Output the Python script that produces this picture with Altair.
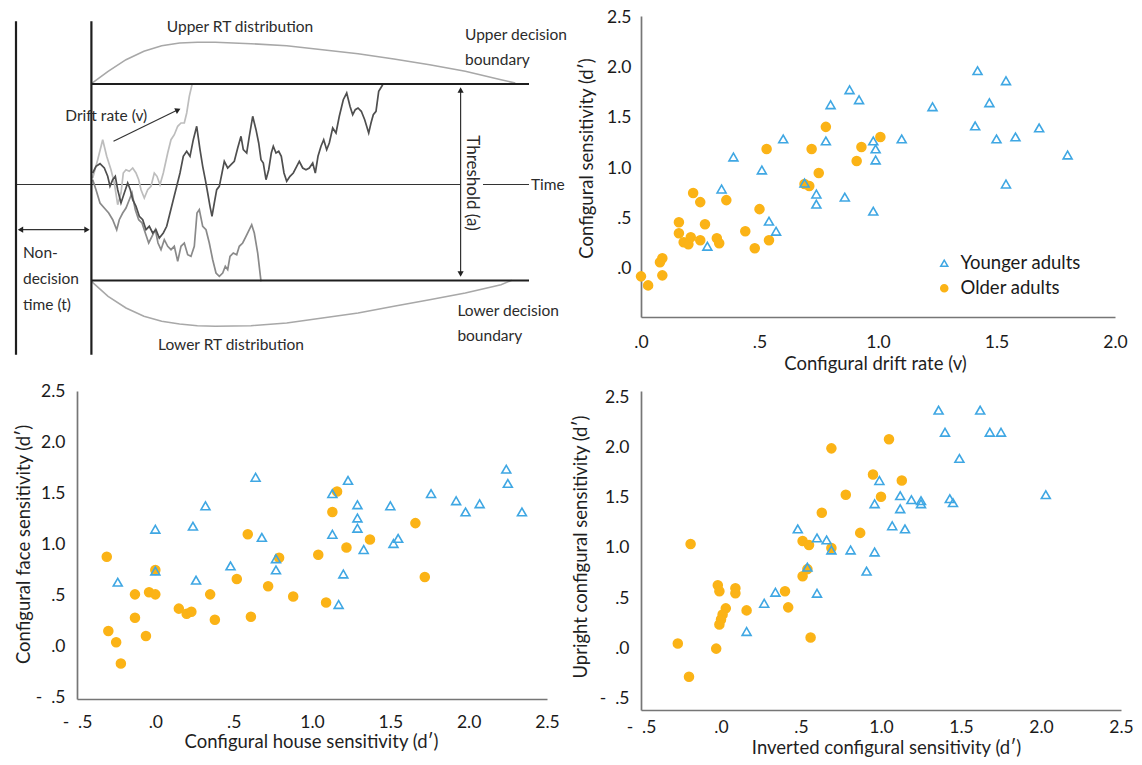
import altair as alt
import pandas as pd

FONT = "Lato"
BLUE = "#3FA7E3"
ORANGE = "#FBB316"
GROUPS = ["Younger adults", "Older adults"]
TXT = "#2b2b2b"

# ---------------- Diagram (drift diffusion model), reference-pixel units ----------------
frame_x = [15, 90.4, 90.4, 90.4]
frame_x2 = [15, 90.4, 528, 528]
frame_y = [18.3, 18.3, 81, 277.5]
frame_y2 = [351.7, 351.7, 81, 277.5]

thin_x = [15, 482, 459.6, 18, 112.5]
thin_x2 = [459, 528, 459.6, 87, 176]
thin_y = [181.5, 181.5, 86, 226.7, 138.3]
thin_y2 = [181.5, 181.5, 272, 226.7, 107.3]

head_x = [459.6, 459.6, 19.5, 86, 177]
head_y = [87, 271, 226.7, 226.7, 107]
head_angle = [0, 180, 270, 90, 64.5]

upper_rt_x = [90.4, 107.1, 125, 142.9, 160.7, 178.6, 196.4, 214.3, 250, 285.7, 321.4, 357.1, 392.9, 428.6, 464.3, 500, 514.3]
upper_rt_y = [80.7, 68.3, 56.7, 48.3, 42.7, 40, 39.3, 39.3, 40.7, 42.7, 46.7, 50.7, 56, 61.7, 68.3, 76.7, 80]
lower_rt_x = [90.4, 107.1, 125, 142.9, 160.7, 178.6, 196.4, 214.3, 250, 285.7, 321.4, 357.1, 392.9, 428.6, 464.3, 500, 510.7]
lower_rt_y = [278.3, 293.3, 305, 313.3, 318.3, 321, 322.7, 323.3, 322.7, 320, 315, 310, 303.3, 296.7, 290, 281.7, 277.3]

walk_a_x = [91.7, 96.7, 101.7, 105.7, 110.0, 113.3, 116.7, 120.0, 122.3, 125.0, 128.3, 131.7, 135.0, 137.7, 140.0, 143.3,
            146.7, 150.0, 153.3, 156.0, 159.0, 162.3, 166.7, 170.0, 173.3, 176.7, 180.0, 183.3, 185.7, 188.3, 191.0]
walk_a_y = [175.0, 156.7, 136.7, 153.3, 166.7, 180.0, 201.7, 190.0, 170.0, 166.7, 168.3, 165.0, 170.0, 176.7, 186.7, 195.0,
            186.7, 183.3, 170.0, 173.3, 181.7, 170.0, 150.0, 136.7, 131.7, 123.3, 120.0, 120.0, 110.0, 93.3, 81.7]

walk_b_x = [91.7, 95, 99, 103.3, 106.7, 109, 111.7, 114.3, 116.7, 120, 123.3, 126.7, 129.3, 131.7, 135, 138.3, 141.7, 145,
            148.3, 151.7, 155, 158.3, 162.3, 165.7, 169, 172.3, 175.7, 179, 182.3, 185.7, 189, 192.3, 195.7, 199, 201.7,
            204.3, 206.7, 209, 211, 213.3, 215.7, 218.3, 221, 223.3, 226.7, 230, 233.3, 236.7, 240, 242.3, 245.7, 248.3,
            251.7, 255, 257.7, 260, 262.3, 265, 267.7, 270.3, 272.3, 275, 277.7, 280.3, 283, 285.7, 289, 292.3, 295.7,
            298.3, 301.7, 305, 308.3, 311.7, 314.3, 317, 320, 322.7, 325.7, 328.3, 331.7, 335, 338.3, 342.3, 345.7, 349,
            351.7, 354.3, 357, 360.3, 363.7, 367.7, 370, 372.3, 375, 377.7, 381.7]
walk_b_y = [170, 163.3, 160.7, 165, 173.3, 183.3, 176.7, 173.3, 186.7, 200, 190, 180, 186.7, 196.7, 203.3, 213.3, 216.7,
            226.7, 223.3, 230, 226.7, 235, 230, 223.3, 210, 196.7, 183.3, 170, 153.3, 148.3, 153.3, 136.7, 123.3, 146.7,
            163.3, 176.7, 190, 203.3, 213.3, 200, 186.7, 183.3, 170, 158.3, 165, 161.7, 158.3, 145, 133.3, 146.7, 150,
            133.3, 113.3, 126.7, 140, 156.7, 160, 176.7, 166.7, 150, 143.3, 150, 148.3, 153.3, 170, 178.3, 173.3, 170,
            163.3, 158.3, 165, 166.7, 165, 160, 170, 153.3, 143.3, 136.7, 146.7, 140, 125, 130, 113.3, 96.7, 90, 103.3,
            111.7, 106.7, 105, 108.3, 116.7, 130, 120, 111.7, 108.3, 88.3, 81.7]

walk_c_x = [91.7, 95, 99, 103.3, 107.7, 111.7, 115.7, 118.3, 121.7, 125, 128.3, 131, 134.3, 137.7, 141, 144.3, 147.7, 151,
            154.3, 157, 160, 163.3, 166.7, 170, 173.3, 176.7, 180, 183.3, 186.7, 190, 193.3, 196, 198.3, 201.7, 205,
            208.3, 211.7, 215, 218.3, 221.7, 224.3, 226.7, 229, 232.3, 235.7, 238.3, 241.7, 245, 248.3, 250.7, 253.3,
            256.7, 260]
walk_c_y = [176.7, 186.7, 200, 205, 210, 216.7, 226.7, 216.7, 210, 205, 196.7, 190, 206.7, 216.7, 220, 230, 240, 233.3,
            226.7, 240, 246.7, 236.7, 243.3, 246.7, 243.3, 258.3, 243.3, 240, 251.7, 253.3, 243.3, 210, 206.7, 223.3,
            226.7, 240, 256.7, 270, 273.3, 270, 263.3, 266.7, 253.3, 250, 251.7, 243.3, 240, 233.3, 226.7, 221.7, 230,
            250, 278.3]

left_text = ["Upper decision", "boundary", "Drift rate (v)", "Non-", "decision", "time (t)",
             "Lower decision", "boundary", "Time"]
left_text_x = [464, 464, 64.3, 22, 22, 22, 456.4, 456.4, 530]
left_text_y = [31.7, 56.7, 113.3, 250, 276, 301.7, 308.3, 333.3, 181.7]
center_text = ["Upper RT distribution", "Lower RT distribution"]
center_text_x = [239, 230]
center_text_y = [24, 341.7]
rot_text = ["Threshold (a)"]
rot_text_x = [471.4]
rot_text_y = [180]

# ---------------- Scatter data ----------------
# Top right: drift rate vs sensitivity
tr_young_x = [1.42, 1.54, 0.88, 0.92, 0.80, 1.47, 1.23, 1.41, 1.68, 0.60, 0.78, 1.10, 0.98, 1.50, 1.58, 0.99, 0.99, 0.39,
              1.80, 0.51, 0.69, 1.54, 0.34, 0.74, 0.86, 0.74, 0.98, 0.54, 0.57, 0.28]
tr_young_y = [1.97, 1.87, 1.78, 1.68, 1.63, 1.65, 1.61, 1.42, 1.40, 1.29, 1.27, 1.29, 1.27, 1.29, 1.31, 1.19, 1.08, 1.11,
              1.13, 0.98, 0.85, 0.84, 0.79, 0.74, 0.71, 0.64, 0.57, 0.47, 0.37, 0.22]
tr_old_x = [0.78, 1.01, 0.53, 0.72, 0.93, 0.91, 0.75, 0.69, 0.71, 0.22, 0.25, 0.36, 0.50, 0.16, 0.27, 0.16, 0.44, 0.18,
            0.20, 0.21, 0.25, 0.32, 0.33, 0.54, 0.48, 0.08, 0.09, 0.09, 0.00, 0.03]
tr_old_y = [1.41, 1.31, 1.19, 1.19, 1.21, 1.07, 0.95, 0.84, 0.82, 0.75, 0.66, 0.68, 0.59, 0.46, 0.44, 0.35, 0.37, 0.26,
            0.24, 0.31, 0.28, 0.30, 0.25, 0.28, 0.20, 0.06, 0.10, -0.07, -0.08, -0.17]

# Bottom left: house vs face sensitivity
bl_young_x = [2.24, 2.25, 0.64, 1.23, 1.13, 1.76, 1.92, 2.07, 1.98, 2.34, 1.29, 1.50, 0.32, 1.29, 1.29, 0.00, 0.24, 1.13,
              0.68, 1.55, 1.52, 1.33, 0.77, 0.48, 0.00, 0.77, 1.20, 0.26, -0.24, 1.17]
bl_young_y = [1.74, 1.60, 1.66, 1.63, 1.50, 1.50, 1.43, 1.40, 1.32, 1.32, 1.39, 1.38, 1.38, 1.26, 1.16, 1.15, 1.18, 1.10,
              1.07, 1.06, 1.01, 0.95, 0.86, 0.79, 0.74, 0.75, 0.71, 0.65, 0.63, 0.41]
bl_old_x = [1.16, 1.13, 1.66, 0.59, 1.37, 1.22, 1.04, 0.79, -0.31, 0.00, 1.72, 0.52, 0.72, -0.04, 0.00, -0.13, 0.35, 0.88,
            1.09, 0.15, 0.20, 0.23, 0.38, 0.61, -0.13, -0.30, -0.06, -0.25, -0.22]
bl_old_y = [1.52, 1.32, 1.21, 1.10, 1.05, 0.97, 0.90, 0.87, 0.88, 0.75, 0.68, 0.66, 0.59, 0.53, 0.51, 0.51, 0.51, 0.49,
            0.43, 0.37, 0.32, 0.34, 0.26, 0.29, 0.28, 0.15, 0.10, 0.04, -0.17]

# Bottom right: inverted vs upright configural sensitivity
br_young_x = [1.36, 1.62, 1.40, 1.68, 1.75, 1.49, 0.99, 1.12, 1.19, 1.25, 1.25, 1.43, 1.45, 2.03, 0.96, 1.12, 1.07, 1.15,
              0.48, 0.60, 0.66, 0.69, 0.81, 0.96, 0.54, 0.91, 0.34, 0.60, 0.27, 0.16]
br_young_y = [2.37, 2.37, 2.15, 2.15, 2.15, 1.89, 1.67, 1.52, 1.48, 1.47, 1.44, 1.49, 1.45, 1.53, 1.44, 1.39, 1.22, 1.19,
              1.19, 1.10, 1.08, 0.98, 0.98, 0.96, 0.81, 0.77, 0.56, 0.55, 0.45, 0.17]
br_old_x = [1.05, 0.69, 0.95, 1.13, 0.78, 1.00, 0.63, 0.87, 0.51, 0.55, 0.69, -0.19, 0.54, 0.51, 0.40, 0.42, 0.16, 0.09,
            0.09, -0.02, -0.01, 0.03, 0.01, 0.00, -0.01, -0.27, -0.03, 0.56, -0.20]
br_old_y = [2.08, 1.99, 1.73, 1.67, 1.53, 1.51, 1.35, 1.15, 1.07, 1.03, 1.00, 1.04, 0.79, 0.72, 0.57, 0.41, 0.38, 0.60,
            0.55, 0.63, 0.57, 0.40, 0.34, 0.29, 0.24, 0.05, 0.00, 0.11, -0.28]

ticks_half = [-0.5, 0.0, 0.5, 1.0, 1.5, 2.0, 2.5]
ticks_tr_x = [0.0, 0.5, 1.0, 1.5, 2.0]

LABEL_EXPR = ("abs(datum.value) < 1 ? (datum.value < 0 ? '-\u00a0\u00a0' : '') + '.' + "
              "format(round(abs(datum.value) * 10), 'd') : format(datum.value, '.1f')")

# ---------------- Diagram chart ----------------
DX = alt.Scale(domain=[76, 546], nice=False, zero=False)
DY = alt.Scale(domain=[13, 314], nice=False, zero=False, reverse=True)


def dxy(xf="x", yf="y"):
    return dict(x=alt.X(f"{xf}:Q", scale=DX, axis=None), y=alt.Y(f"{yf}:Q", scale=DY, axis=None))


frame_df = pd.DataFrame({"x": frame_x, "x2": frame_x2, "y": frame_y, "y2": frame_y2})
thin_df = pd.DataFrame({"x": thin_x, "x2": thin_x2, "y": thin_y, "y2": thin_y2})
head_df = pd.DataFrame({"x": head_x, "y": head_y, "a": head_angle})
rt_df = pd.DataFrame({
    "x": upper_rt_x + lower_rt_x,
    "y": upper_rt_y + lower_rt_y,
    "c": ["u"] * len(upper_rt_x) + ["l"] * len(lower_rt_x),
    "i": list(range(len(upper_rt_x))) + list(range(len(lower_rt_x))),
})


def walk_df(xs, ys):
    return pd.DataFrame({"x": xs, "y": ys, "i": list(range(len(xs)))})


pin_df = pd.DataFrame({"x": [8], "x2": [8], "y": [150], "y2": [151]})

rt_layer = alt.Chart(rt_df).mark_line(color="#a8a8a8", strokeWidth=1.6).encode(
    detail="c:N", order="i:Q", **dxy())
frame_layer = alt.Chart(frame_df).mark_rule(color="#1e1e1e", strokeWidth=2.2).encode(
    x2="x2:Q", y2="y2:Q", **dxy())
thin_layer = alt.Chart(thin_df).mark_rule(color="#333333", strokeWidth=1.2).encode(
    x2="x2:Q", y2="y2:Q", **dxy())
pin_layer = alt.Chart(pin_df).mark_rule(color="white", strokeWidth=1).encode(
    x2="x2:Q", y2="y2:Q", **dxy())
walk_layers = [
    alt.Chart(walk_df(walk_a_x, walk_a_y)).mark_line(color="#bdbdbd", strokeWidth=1.7).encode(order="i:Q", **dxy()),
    alt.Chart(walk_df(walk_c_x, walk_c_y)).mark_line(color="#8a8a8a", strokeWidth=1.7).encode(order="i:Q", **dxy()),
    alt.Chart(walk_df(walk_b_x, walk_b_y)).mark_line(color="#4f4f4f", strokeWidth=1.7).encode(order="i:Q", **dxy()),
]
head_layer = alt.Chart(head_df).mark_point(shape="triangle-up", filled=True, color="#222222", size=38,
                                           opacity=1).encode(angle=alt.Angle("a:Q", scale=None), **dxy())
ltext_layer = alt.Chart(pd.DataFrame({"t": left_text, "x": left_text_x, "y": left_text_y})).mark_text(
    align="left", baseline="middle", font=FONT, fontSize=15.5, color=TXT).encode(text="t:N", **dxy())
ctext_layer = alt.Chart(pd.DataFrame({"t": center_text, "x": center_text_x, "y": center_text_y})).mark_text(
    align="center", baseline="middle", font=FONT, fontSize=15.5, color=TXT).encode(text="t:N", **dxy())
rtext_layer = alt.Chart(pd.DataFrame({"t": rot_text, "x": rot_text_x, "y": rot_text_y})).mark_text(
    align="center", baseline="middle", font=FONT, fontSize=17, color=TXT, angle=90).encode(text="t:N", **dxy())

diagram = alt.layer(pin_layer, rt_layer, thin_layer, *walk_layers, frame_layer, head_layer,
                    ltext_layer, ctext_layer, rtext_layer).properties(width=470, height=301)

# ---------------- Scatter charts ----------------
AX = dict(grid=False, ticks=False, tickSize=0, domainColor="#767676", domainWidth=1.7,
          labelFont=FONT, labelFontSize=17.5, labelColor="#1a1a1a", labelFlush=False, labelOverlap=False,
          titleFont=FONT, titleFontSize=18.5, titleFontWeight="normal", titleColor="#1f1f1f",
          titleAlign="center", titleBaseline="middle")


def frame(yx, yy, ox, oy):
    return pd.DataFrame({
        "x": list(ox) + list(yx),
        "y": list(oy) + list(yy),
        "group": ["Older adults"] * len(ox) + ["Younger adults"] * len(yx),
    })


def scatter(df, xdom, ydom, xvals, w, h, xtitle, ytitle, xt, yt, xlp, ylp, legend):
    x = alt.X("x:Q", scale=alt.Scale(domain=xdom, nice=False, zero=False),
              axis=alt.Axis(values=xvals, labelExpr=LABEL_EXPR, title=xtitle, titleX=xt[0], titleY=xt[1],
                            titleAngle=0, labelPadding=xlp, **AX))
    y = alt.Y("y:Q", scale=alt.Scale(domain=ydom, nice=False, zero=False),
              axis=alt.Axis(values=ticks_half, labelExpr=LABEL_EXPR, title=ytitle, titleX=yt[0], titleY=yt[1],
                            titleAngle=270, labelPadding=ylp, **AX))
    return alt.Chart(df).mark_point(filled=True, size=80, strokeWidth=1.6, opacity=1).encode(
        x=x, y=y,
        shape=alt.Shape("group:N", scale=alt.Scale(domain=GROUPS, range=["triangle-up", "circle"]), legend=legend),
        stroke=alt.Stroke("group:N", scale=alt.Scale(domain=GROUPS, range=[BLUE, ORANGE]), legend=legend),
        fill=alt.Fill("group:N", scale=alt.Scale(domain=GROUPS, range=["transparent", ORANGE]), legend=legend),
    ).properties(width=w, height=h)


LEG = alt.Legend(orient="none", legendX=294, legendY=238, title=None, labelFont=FONT, labelFontSize=18.5,
                 labelColor="#1a1a1a", symbolSize=50, symbolStrokeWidth=1.5, rowPadding=6, labelOffset=7,
                 padding=0)

tr = scatter(frame(tr_young_x, tr_young_y, tr_old_x, tr_old_y), [0, 2], [-0.485, 2.515], ticks_tr_x,
             474, 301, "Configural drift rate (v)", "Configural sensitivity (d′)",
             (234, 46), (-55, 142), 16, 10, LEG)
bl = scatter(frame(bl_young_x, bl_young_y, bl_old_x, bl_old_y), [-0.5, 2.5], [-0.518, 2.508], ticks_half,
             470, 308, "Configural house sensitivity (d′)", "Configural face sensitivity (d′)",
             (234, 42.5), (-54, 153), 14, 12, None)
br = scatter(frame(br_young_x, br_young_y, br_old_x, br_old_y), [-0.5, 2.5], [-0.61, 2.56], ticks_half,
             480, 319, "Inverted configural sensitivity (d′)", "Upright configural sensitivity (d′)",
             (245, 37.5), (-61, 155.5), 8, 12, None)

chart = alt.concat(
    diagram, tr, bl, br, columns=2, spacing={"row": 74, "column": 94},
    bounds="flush", align="each", center=True, padding=0,
).resolve_scale(
    shape="independent", stroke="independent", fill="independent"
).configure_view(stroke="transparent")

chart.save("out.html", embed_options={"renderer": "svg", "actions": False})
